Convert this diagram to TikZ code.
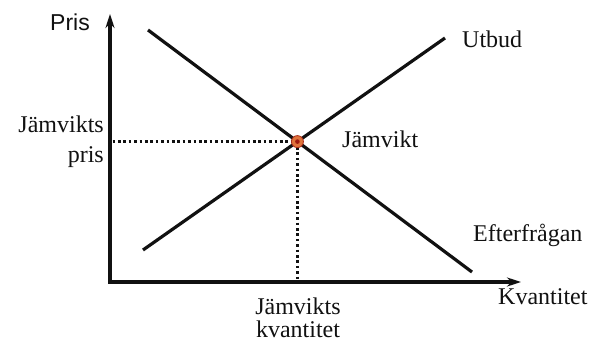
\documentclass[tikz,border=0pt]{standalone}
\usepackage{fontspec}
\setmainfont{Liberation Serif}
\newfontfamily\axisfont{Liberation Sans}
\usetikzlibrary{arrows.meta,positioning,calc}
\definecolor{ink}{HTML}{111111}
\definecolor{eqorange}{HTML}{E0743C}
\definecolor{eqred}{HTML}{9E1A10}
\tikzset{
  axis/.style={{Stealth[length=14pt,width=9pt,inset=4.5pt]}-{Stealth[length=14pt,width=9pt,inset=4.5pt]}, draw=ink, line width=3.2pt},
  curve/.style={draw=ink, line width=3.2pt},
  guide/.style={draw=ink, line width=2.6pt, dash pattern=on 2.6pt off 2.8pt},
  lbl/.style={font=\fontsize{24}{30}\selectfont, text=ink, inner sep=0pt},
  axislbl/.style={font=\axisfont\fontsize{23}{27}\selectfont, text=ink, inner sep=0pt},
  eqdot/.style={circle, draw=eqred!80!eqorange, line width=0.8pt, fill=eqorange, minimum size=12pt, inner sep=0pt}
}
\begin{document}
\begin{tikzpicture}[x=1pt, y=-1pt]
  \useasboundingbox (0,0) rectangle (595,342);

  % axes
  \coordinate (origin) at (110,282);
  \coordinate (ytop) at (110,14);
  \coordinate (xend) at (521,282);
  \draw[axis] (ytop) -- (origin) -- (xend);

  % supply and demand
  \coordinate (s1) at (143,250);
  \coordinate (s2) at (445,38);
  \coordinate (d1) at (148,30);
  \coordinate (d2) at (472,272);
  \draw[curve] (s1) -- (s2);
  \draw[curve] (d1) -- (d2);

  % equilibrium
  \coordinate (eq) at (intersection of s1--s2 and d1--d2);
  \coordinate (eqy) at (origin |- eq);
  \coordinate (eqx) at (eq |- origin);
  \draw[guide] ([xshift=2.5pt]eqy) -- (eq);
  \draw[guide] (eq) -- ([yshift=2.5pt]eqx);
  \node[eqdot] (eqpoint) at (eq) {};
  \fill[eqred] (eqpoint.center) circle (2.3pt);

  % labels
  \node[axislbl, anchor=base east] (pris) at (90,31) {Pris};
  \node[lbl, anchor=base west] (utbud) at (462,48) {Utbud};
  \node[lbl, anchor=base west] (jamvikt) at (342,148) {Jämvikt};
  \node[lbl, anchor=base west] (efterfragan) at (473,242) {Efterfrågan};
  \node[lbl, anchor=base west] (kvantitet) at (498,305) {Kvantitet};
  \node[lbl, align=right, anchor=east] (eqpris) at (104,142) {Jämvikts\\pris};
  \node[lbl, align=center, font=\fontsize{24}{23}\selectfont] (eqkvant) at (298,318) {Jämvikts\\kvantitet};
\end{tikzpicture}
\end{document}
